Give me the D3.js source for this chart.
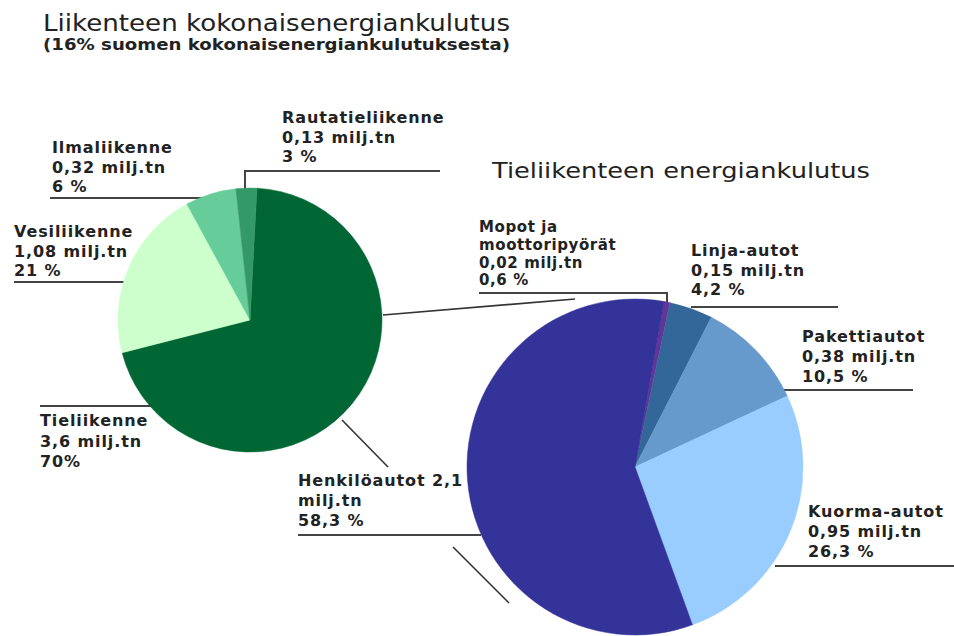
<!DOCTYPE html>
<html>
<head>
<meta charset="utf-8">
<script src="https://cdn.jsdelivr.net/npm/d3@7"></script>
<style>
  body { margin: 0; background: #fff; }
  svg { display: block; }
  text { font-family: "DejaVu Sans", Verdana, sans-serif; fill: #222; }
</style>
</head>
<body>
<div id="chart"></div>
<script>
// ---------------- data
const mainCategories = ["Tieliikenne", "Vesiliikenne", "Ilmaliikenne", "Rautatieliikenne"];
const mainValues = [3.6, 1.08, 0.32, 0.13];
const mainPercents = ["70%", "21 %", "6 %", "3 %"];
const mainColors = ["#006633", "#ccffcc", "#66cc99", "#339966"];

const roadCategories = ["Mopot ja moottoripyörät", "Linja-autot", "Pakettiautot", "Kuorma-autot", "Henkilöautot"];
const roadValues = [0.02, 0.15, 0.38, 0.95, 2.1];
const roadPercents = ["0,6 %", "4,2 %", "10,5 %", "26,3 %", "58,3 %"];
const roadColors = ["#663399", "#336699", "#6699cc", "#99ccff", "#333399"];

const titleText = "Liikenteen kokonaisenergiankulutus";
const subtitleText = "(16% suomen kokonaisenergiankulutuksesta)";
const roadTitleText = "Tieliikenteen energiankulutus";

// how each label is broken on rows
const fmt = v => String(v).replace(".", ",");
const labelRows = {
    "Tieliikenne": d => [d.name, fmt(d.value) + " milj.tn", d.pct],
    "Vesiliikenne": d => [d.name, fmt(d.value) + " milj.tn", d.pct],
    "Ilmaliikenne": d => [d.name, fmt(d.value) + " milj.tn", d.pct],
    "Rautatieliikenne": d => [d.name, fmt(d.value) + " milj.tn", d.pct],
    "Mopot ja moottoripyörät": d => ["Mopot ja", "moottoripyörät", fmt(d.value) + " milj.tn", d.pct],
    "Linja-autot": d => [d.name, fmt(d.value) + " milj.tn", d.pct],
    "Pakettiautot": d => [d.name, fmt(d.value) + " milj.tn", d.pct],
    "Kuorma-autot": d => [d.name, fmt(d.value) + " milj.tn", d.pct],
    "Henkilöautot": d => [d.name + " " + fmt(d.value), "milj.tn", d.pct]
}

// ---------------- layout
const width = 954, height = 636;
const mainPie = { cx: 250, cy: 320, r: 132, start: 3 };
const roadPie = { cx: 635, cy: 467, r: 168, start: 10 };

// label position (first baseline), row step, leader line points
const labelLayout = {
    "Rautatieliikenne": { x: 282, y: 123, step: 19.5, size: 16, ls: 0.9, line: [[440, 171], [245, 171], [245, 190]] },
    "Ilmaliikenne": { x: 52, y: 153, step: 19.5, size: 16, ls: 0.9, line: [[50, 198], [203, 198]] },
    "Vesiliikenne": { x: 14, y: 237, step: 19.5, size: 16, ls: 0.9, line: [[14, 282], [125, 282]] },
    "Tieliikenne": { x: 40, y: 426, step: 20.5, size: 16, ls: 0.9, line: [[40, 406], [152, 406]] },
    "Mopot ja moottoripyörät": { x: 479, y: 232, step: 17.8, size: 15, ls: 0.6, line: [[479, 293], [667, 293], [667, 307]] },
    "Linja-autot": { x: 691, y: 256, step: 19.5, size: 16, ls: 0.9, line: [[691, 307], [838, 307]] },
    "Pakettiautot": { x: 802, y: 342, step: 20, size: 16, ls: 0.9, line: [[784, 390], [913, 390]] },
    "Kuorma-autot": { x: 808, y: 517, step: 20, size: 16, ls: 0.9, line: [[775, 566], [954, 566]] },
    "Henkilöautot": { x: 298, y: 486, step: 20, size: 16, ls: 0.9, line: [[298, 535], [481, 535]] }
}

// connector lines between the two pies
const connectors = [
    [[383, 315], [575, 299]],
    [[342, 420], [388, 467]],
    [[453, 547], [509, 603]]
]

const svg = d3.select("#chart").append("svg")
    .attr("width", width)
    .attr("height", height)

// ---------------- titles
svg.append("text")
    .attr("x", 43).attr("y", 31)
    .attr("font-size", 23)
    .attr("textLength", 467)
    .attr("lengthAdjust", "spacingAndGlyphs")
    .text(titleText)

svg.append("text")
    .attr("x", 43).attr("y", 50)
    .attr("font-size", 15)
    .attr("font-weight", "bold")
    .attr("textLength", 467)
    .attr("lengthAdjust", "spacingAndGlyphs")
    .text(subtitleText)

svg.append("text")
    .attr("x", 492).attr("y", 178)
    .attr("font-size", 22)
    .attr("textLength", 378)
    .attr("lengthAdjust", "spacingAndGlyphs")
    .text(roadTitleText)

// ---------------- labels and leader lines
const mainData = mainCategories.map((name, i) => ({ name, value: mainValues[i], pct: mainPercents[i], color: mainColors[i] }))
const roadData = roadCategories.map((name, i) => ({ name, value: roadValues[i], pct: roadPercents[i], color: roadColors[i] }))

const lineGen = d3.line()

const labelGroup = svg.append("g")
labelGroup.selectAll("path.leader")
    .data([...mainData, ...roadData])
    .join("path")
    .attr("class", "leader")
    .attr("d", d => lineGen(labelLayout[d.name].line))
    .attr("fill", "none")
    .attr("stroke", "#444")
    .attr("stroke-width", 2)

labelGroup.selectAll("path.connector")
    .data(connectors)
    .join("path")
    .attr("class", "connector")
    .attr("d", d => lineGen(d))
    .attr("fill", "none")
    .attr("stroke", "#333")
    .attr("stroke-width", 1.6)

const labels = labelGroup.selectAll("text.label")
    .data([...mainData, ...roadData])
    .join("text")
    .attr("class", "label")
    .attr("font-size", d => labelLayout[d.name].size)
    .attr("letter-spacing", d => labelLayout[d.name].ls)
    .attr("font-weight", "bold")

labels.selectAll("tspan")
    .data(d => labelRows[d.name](d).map((t, i) => ({ t, i, lay: labelLayout[d.name] })))
    .join("tspan")
    .attr("x", d => d.lay.x)
    .attr("y", d => d.lay.y + d.i * d.lay.step)
    .text(d => d.t)

// ---------------- pies
function drawPie(data, cfg) {
    const pie = d3.pie()
        .value(d => d.value)
        .sort(null)
        .startAngle(cfg.start * Math.PI / 180)
        .endAngle(cfg.start * Math.PI / 180 + 2 * Math.PI)
    const arc = d3.arc().innerRadius(0).outerRadius(cfg.r)
    svg.append("g")
        .attr("transform", `translate(${cfg.cx},${cfg.cy})`)
        .selectAll("path")
        .data(pie(data))
        .join("path")
        .attr("d", arc)
        .attr("fill", d => d.data.color)
        .attr("stroke", d => d.data.color)
        .attr("stroke-width", 0.5)
}

drawPie(mainData, mainPie)
drawPie(roadData, roadPie)
</script>
</body>
</html>
